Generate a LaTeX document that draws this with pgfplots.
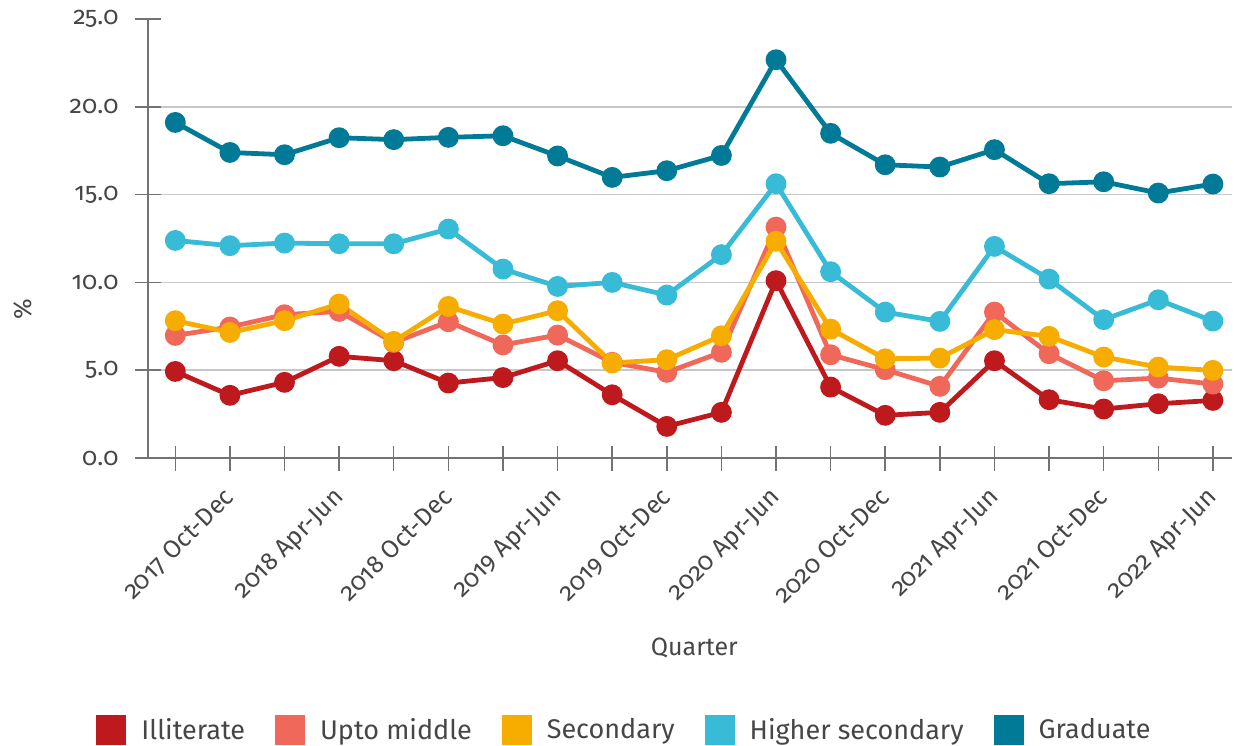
\documentclass[border=0pt]{standalone}
\usepackage{pgfplots}
\pgfplotsset{compat=1.18}
\usepackage{pgfplotstable}
\usepackage{fontspec}
\setmainfont{Fira Sans}[Numbers=OldStyle]
\definecolor{cill}{RGB}{190,26,30}
\definecolor{cmid}{RGB}{240,104,90}
\definecolor{csec}{RGB}{247,173,0}
\definecolor{chs}{RGB}{55,187,214}
\definecolor{cgrad}{RGB}{0,122,150}
\definecolor{txt}{RGB}{70,70,70}
\pgfplotstableread{
x ill mid sec hs grad
0 4.93 6.98 7.82 12.39 19.11
1 3.57 7.46 7.15 12.09 17.40
2 4.31 8.16 7.82 12.24 17.27
3 5.79 8.35 8.77 12.20 18.24
4 5.54 6.58 6.64 12.20 18.13
5 4.27 7.76 8.63 13.04 18.26
6 4.58 6.44 7.63 10.76 18.35
7 5.54 7.00 8.39 9.77 17.20
8 3.60 5.45 5.41 10.00 15.98
9 1.80 4.88 5.60 9.28 16.36
10 2.60 6.02 6.96 11.58 17.23
11 10.10 13.15 12.34 15.62 22.68
12 4.04 5.88 7.34 10.61 18.49
13 2.43 5.03 5.65 8.31 16.70
14 2.60 4.08 5.69 7.78 16.57
15 5.54 8.31 7.31 12.05 17.56
16 3.32 5.94 6.93 10.19 15.62
17 2.79 4.40 5.75 7.88 15.73
18 3.09 4.55 5.18 9.01 15.09
19 3.28 4.21 4.99 7.80 15.60
}\datatable
\begin{document}
\begin{tikzpicture}
\begin{axis}[
  scale only axis,
  width=542pt, height=219.5pt,
  xmin=-0.5, xmax=19.35,
  ymin=0, ymax=25,
  axis x line*=bottom, axis y line*=left,
  axis line style={draw=black!55, line width=1pt},
  xtick={0,...,19},
  xticklabels={,2017 Oct-Dec,,2018 Apr-Jun,,2018 Oct-Dec,,2019 Apr-Jun,,2019 Oct-Dec,,2020 Apr-Jun,,2020 Oct-Dec,,2021 Apr-Jun,,2021 Oct-Dec,,2022 Apr-Jun},
  ytick={0,5,10,15,20},
  extra y ticks={25},
  extra y tick style={ymajorgrids=false},
  ymajorgrids,
  grid style={draw=black!22, line width=0.8pt},
  tick align=center,
  major tick length=12.5pt,
  tick style={draw=black!55, line width=0.75pt},
  /pgf/number format/assume math mode=true,
  yticklabel style={/pgf/number format/.cd, fixed, fixed zerofill, precision=1, /tikz/.cd, font=\fontsize{12.5pt}{14pt}\selectfont, text=txt, xshift=-5pt},
  xticklabel style={rotate=45, anchor=north east, font=\fontsize{12.5pt}{14pt}\selectfont, text=txt, inner sep=1pt, yshift=-1.9pt, xshift=-6.8pt},
  ylabel={\%},
  ylabel style={at={(axis description cs:-0.1153,0.338)}, anchor=center, font=\fontsize{12.5pt}{14pt}\selectfont, text=txt},
  xlabel={Quarter},
  xlabel style={at={(axis description cs:0.504,-0.432)}, anchor=center, font=\fontsize{12.5pt}{14pt}\selectfont, text=txt},
  legend columns=5,
  legend image code/.code={\fill[#1, draw=none] (0pt,-7.5pt) rectangle (15pt,7.5pt);},
  legend style={at={(axis description cs:-0.0535,-0.62)}, anchor=west, draw=none, fill=none,
    font=\fontsize{13.5pt}{16pt}\selectfont, text=txt,
    nodes={inner sep=0pt},
    /tikz/every odd column/.append style={column sep=7.5pt},
    /tikz/every even column/.append style={column sep=15pt}},
  every axis plot/.append style={line width=2.4pt, mark=*, mark size=4pt},
]
\addplot[color=cill] table[x=x, y=ill] {\datatable};
\addlegendentry{Illiterate}
\addplot[color=cmid] table[x=x, y=mid] {\datatable};
\addlegendentry{Upto middle}
\addplot[color=csec] table[x=x, y=sec] {\datatable};
\addlegendentry{Secondary}
\addplot[color=chs] table[x=x, y=hs] {\datatable};
\addlegendentry{Higher secondary}
\addplot[color=cgrad] table[x=x, y=grad] {\datatable};
\addlegendentry{Graduate}
\end{axis}
\pgfresetboundingbox
\path[use as bounding box] ([xshift=-74pt,yshift=-143.5pt]current axis.south west) rectangle ([xshift=1pt,yshift=9.5pt]current axis.north east);
\end{tikzpicture}
\end{document}
